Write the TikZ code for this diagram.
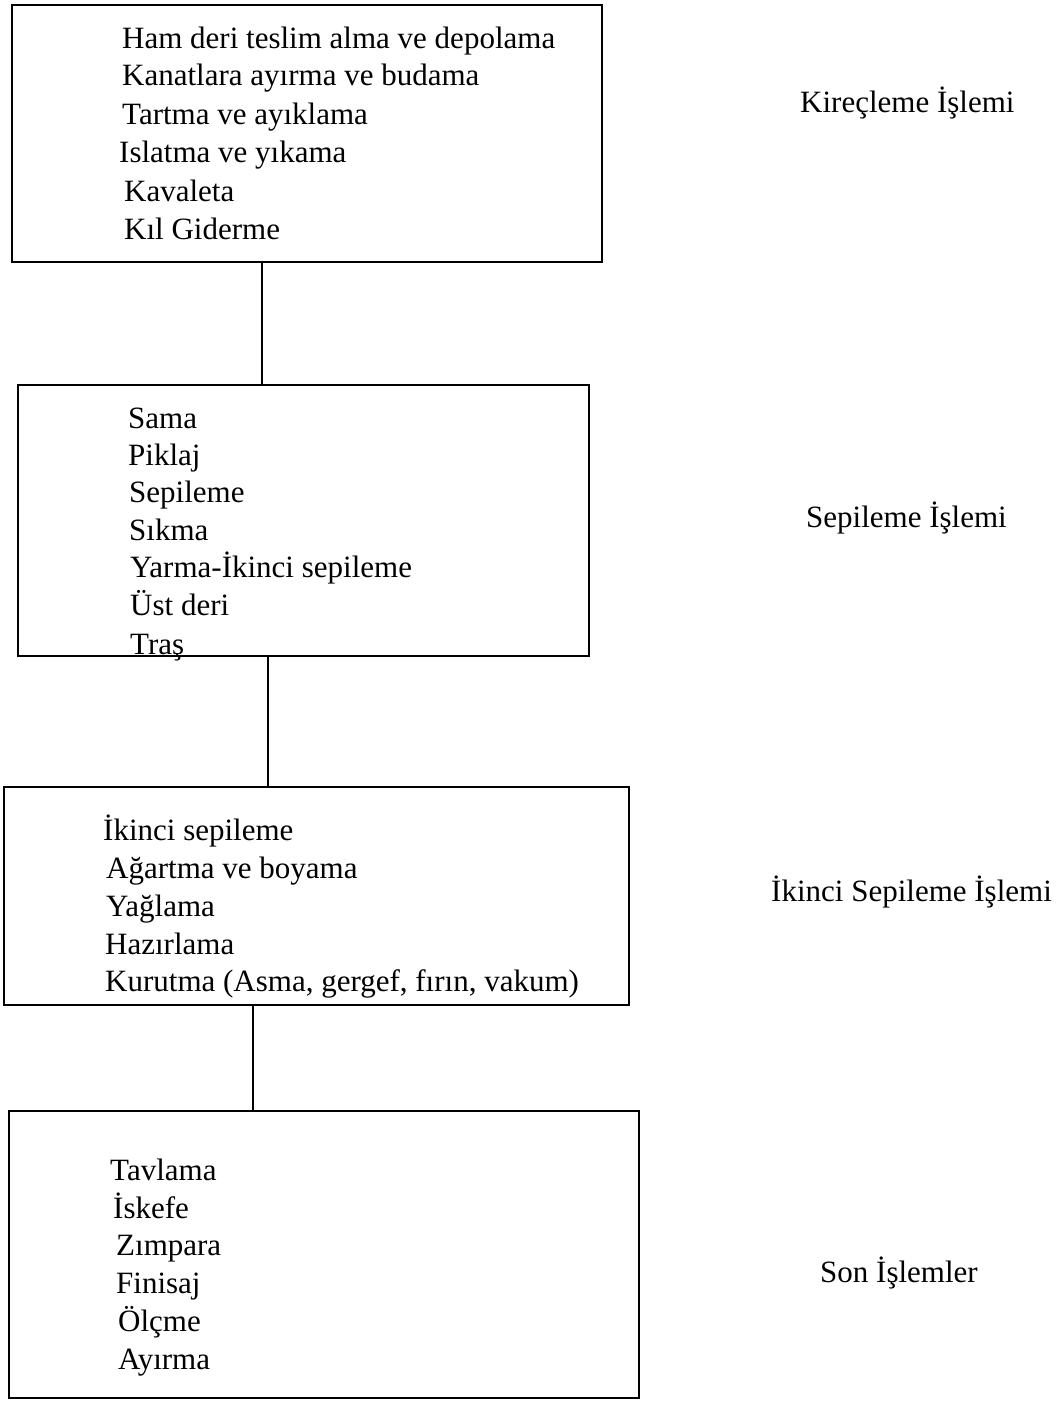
\documentclass[tikz,border=0pt]{standalone}
\usepackage{fontspec}
\setmainfont{Liberation Serif}
\begin{document}
\begin{tikzpicture}[x=1pt,y=-1pt,
  box/.style={draw,line width=1.8pt,inner sep=0pt,anchor=north west},
  item/.style={anchor=base west,inner sep=0pt,font=\fontsize{31}{38}\selectfont},
  link/.style={line width=1.8pt}]
\useasboundingbox (0,0) rectangle (1063,1407);
% boxes
\node[box,minimum width=590pt,minimum height=257pt] (b1) at (11,4) {};
\node[box,minimum width=571pt,minimum height=271pt] (b2) at (17,384) {};
\node[box,minimum width=625pt,minimum height=218pt] (b3) at (3,786) {};
\node[box,minimum width=630pt,minimum height=287pt] (b4) at (8,1110) {};
% connectors
\coordinate (k1) at (262,0);
\coordinate (k2) at (268,0);
\coordinate (k3) at (253,0);
\draw[link] (b1.south -| k1) -- (b2.north -| k1);
\draw[link] (b2.south -| k2) -- (b3.north -| k2);
\draw[link] (b3.south -| k3) -- (b4.north -| k3);
% box 1
\node[item] (t11) at (122,49) {Ham deri teslim alma ve depolama};
\node[item] (t12) at (122,86) {Kanatlara ayırma ve budama};
\node[item] (t13) at (122,125) {Tartma ve ayıklama};
\node[item] (t14) at (119,163) {Islatma ve yıkama};
\node[item] (t15) at (124,201) {Kavaleta};
\node[item] (t16) at (124,239) {Kıl Giderme};
% box 2
\node[item] (t21) at (128,428) {Sama};
\node[item] (t22) at (128,465) {Piklaj};
\node[item] (t23) at (129,502) {Sepileme};
\node[item] (t24) at (129,540) {Sıkma};
\node[item] (t25) at (130,577) {Yarma-İkinci sepileme};
\node[item] (t26) at (130,615) {Üst deri};
\node[item] (t27) at (130,654) {Traş};
% box 3
\node[item] (t31) at (103,840) {İkinci sepileme};
\node[item] (t32) at (106,878) {Ağartma ve boyama};
\node[item] (t33) at (106,916) {Yağlama};
\node[item] (t34) at (105,954) {Hazırlama};
\node[item] (t35) at (105,991) {Kurutma (Asma, gergef, fırın, vakum)};
% box 4
\node[item] (t41) at (110,1180) {Tavlama};
\node[item] (t42) at (113,1218) {İskefe};
\node[item] (t43) at (116,1255) {Zımpara};
\node[item] (t44) at (116,1293) {Finisaj};
\node[item] (t45) at (118,1331) {Ölçme};
\node[item] (t46) at (118,1369) {Ayırma};
% right labels
\node[item] (l1) at (800,113) {Kireçleme İşlemi};
\node[item] (l2) at (806,527) {Sepileme İşlemi};
\node[item] (l3) at (771,901) {İkinci Sepileme İşlemi};
\node[item] (l4) at (820,1282) {Son İşlemler};
\end{tikzpicture}
\end{document}
